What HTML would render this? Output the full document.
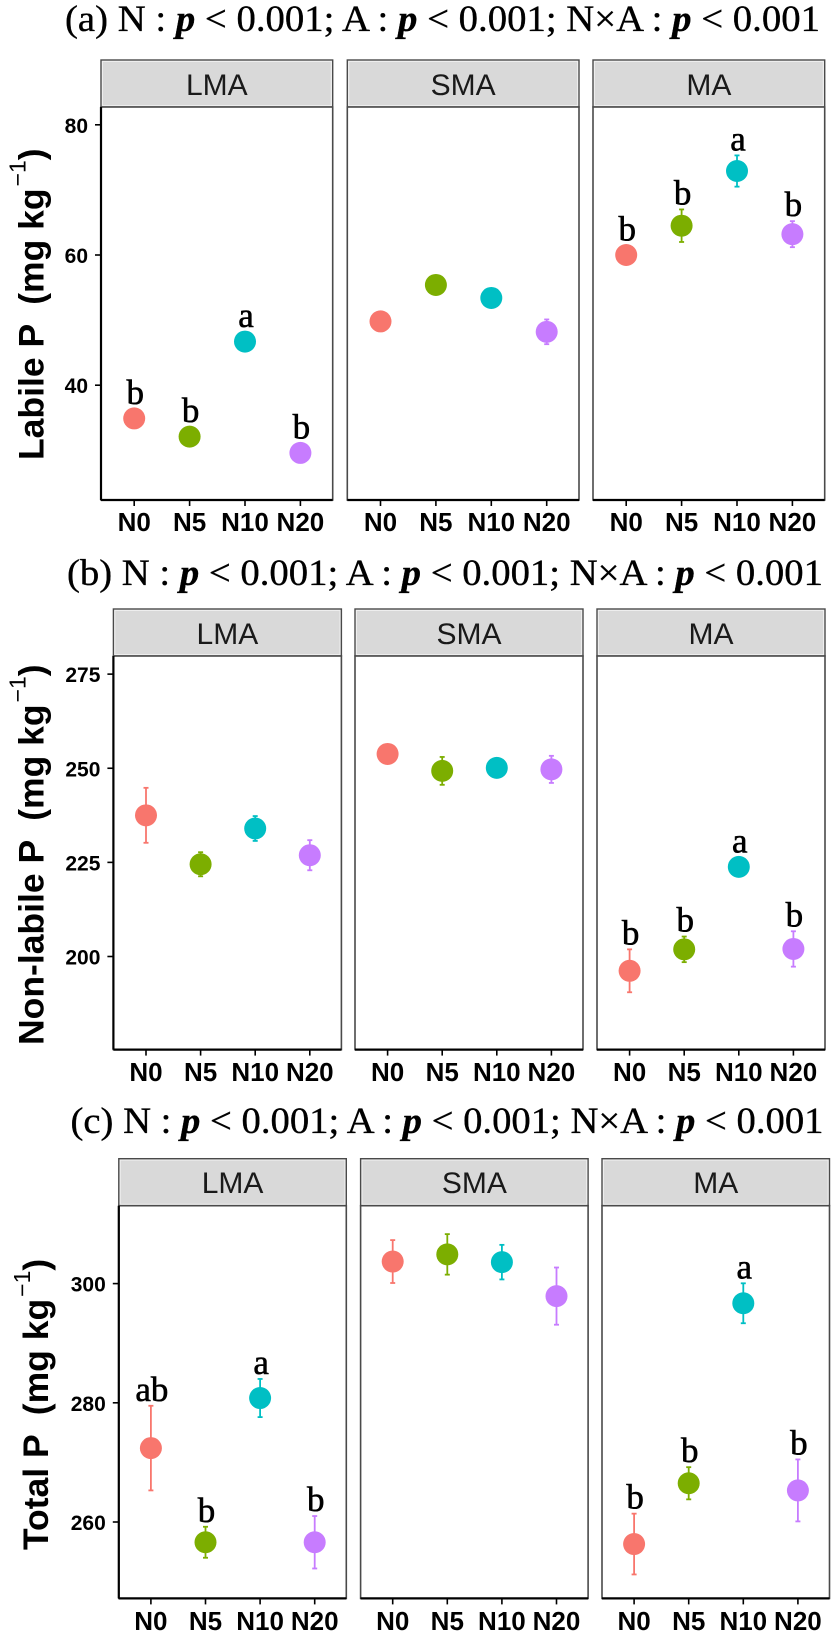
<!DOCTYPE html>
<html lang="en">
<head>
<meta charset="utf-8">
<title>Labile, non-labile and total P</title>
<style>
html,body{margin:0;padding:0;background:#fff;width:831px;height:1637px;overflow:hidden}
svg{display:block}
text{font-family:"Liberation Sans",sans-serif}
.serif{font-family:"Liberation Serif",serif}
</style>
</head>
<body>
<svg id="fig" xmlns="http://www.w3.org/2000/svg" width="831" height="1637" viewBox="0 0 831 1637"></svg>
<script>
// Shared categories
const treatments = ['N0', 'N5', 'N10', 'N20'];
const facets = ['LMA', 'SMA', 'MA'];
const seriesColors = ['#F8766D', '#7CAE00', '#00BFC4', '#C77CFF'];

// (a) Labile P
const labileTicks = [40, 60, 80];
const labileLmaMeans = [34.9, 32.1, 46.7, 29.6];
const labileLmaErrors = [0.4, 0.4, 0.5, 0.4];
const labileLmaLetters = ['b', 'b', 'a', 'b'];
const labileSmaMeans = [49.8, 55.4, 53.4, 48.2];
const labileSmaErrors = [0.6, 0.4, 0.4, 1.9];
const labileSmaLetters = ['', '', '', ''];
const labileMaMeans = [60.0, 64.5, 72.9, 63.2];
const labileMaErrors = [0.5, 2.5, 2.4, 2.0];
const labileMaLetters = ['b', 'b', 'a', 'b'];

// (b) Non-labile P
const nonLabileTicks = [200, 225, 250, 275];
const nonLabileLmaMeans = [237.5, 224.5, 234.0, 226.9];
const nonLabileLmaErrors = [7.3, 3.2, 3.3, 4.0];
const nonLabileLmaLetters = ['', '', '', ''];
const nonLabileSmaMeans = [253.8, 249.3, 250.1, 249.7];
const nonLabileSmaErrors = [0.8, 3.7, 1.0, 3.6];
const nonLabileSmaLetters = ['', '', '', ''];
const nonLabileMaMeans = [196.2, 201.9, 223.8, 202.0];
const nonLabileMaErrors = [5.7, 3.4, 0.9, 4.7];
const nonLabileMaLetters = ['b', 'b', 'a', 'b'];

// (c) Total P
const totalTicks = [260, 280, 300];
const totalLmaMeans = [272.4, 256.6, 280.8, 256.6];
const totalLmaErrors = [7.1, 2.6, 3.2, 4.4];
const totalLmaLetters = ['ab', 'b', 'a', 'b'];
const totalSmaMeans = [303.7, 304.9, 303.6, 297.9];
const totalSmaErrors = [3.6, 3.4, 2.9, 4.8];
const totalSmaLetters = ['', '', '', ''];
const totalMaMeans = [256.3, 266.5, 296.7, 265.3];
const totalMaErrors = [5.1, 2.7, 3.35, 5.2];
const totalMaLetters = ['b', 'b', 'a', 'b'];

const SVGNS = 'http://www.w3.org/2000/svg';
const root = document.getElementById('fig');

function mk(tag, attrs, parent, txt) {
  const el = document.createElementNS(SVGNS, tag);
  for (const k in attrs) el.setAttribute(k, attrs[k]);
  if (txt !== undefined) el.textContent = txt;
  (parent || root).appendChild(el);
  return el;
}

function drawFigure(cfg) {
  const g = mk('g', {});
  
  

  // Title
  const title = mk('text', {
    class: 'serif', x: cfg.titleX, y: cfg.titleY, 'font-size': 37, fill: '#000',
    stroke: '#000', 'stroke-width': 0.35,
    textLength: cfg.titleW, lengthAdjust: 'spacingAndGlyphs'
  }, g);
  
  
  const parts = [cfg.label + ' N : ', 'p', ' < 0.001; A : ', 'p', ' < 0.001; N×A : ', 'p', ' < 0.001'];
  parts.forEach(function (p, i) {
    const ts = mk('tspan', {}, title, p);
    if (i % 2) { ts.setAttribute('font-style', 'italic'); ts.setAttribute('font-weight', 'bold'); }
  });

  // Y axis title
  const yt = mk('text', {
    transform: 'translate(' + cfg.ytX + ',' + cfg.ytY + ') rotate(-90)',
    'font-size': 35.5, 'font-weight': 'bold', fill: '#000'
  }, g);
  
  
  yt.style.whiteSpace = 'pre';
  mk('tspan', {}, yt, cfg.yLabel + '  (mg kg');
  mk('tspan', { 'font-size': 23, 'font-weight': 'normal', dy: -18, dx: 2 }, yt, '−1');
  mk('tspan', { dy: 18, dx: 0 }, yt, ')');

  const y = function (v) { return cfg.y0 - (v - cfg.v0) * cfg.pxPerUnit; };

  cfg.panels.forEach(function (p, pi) {
    const left = cfg.panelX[pi];
    const right = left + cfg.panelW;
    const x = function (i) { return left + cfg.firstX + i * cfg.stepX; };
    const pg = mk('g', {}, g);
    
    

    // Strip
    const strip = mk('rect', {
      x: left, y: cfg.stripTop, width: cfg.panelW, height: cfg.panelTop - cfg.stripTop,
      fill: '#d9d9d9', stroke: '#4a4a4a', 'stroke-width': 1.4
    }, pg);
    
    
    const stripInner = mk('rect', {
      x: left + 1.4, y: cfg.stripTop + 1.4, width: cfg.panelW - 2.8, height: cfg.panelTop - cfg.stripTop - 2.8,
      fill: 'none', stroke: '#f0f0f0', 'stroke-width': 1
    }, pg);
    
    
    const stripText = mk('text', {
      x: (left + right) / 2, y: cfg.stripText, 'text-anchor': 'middle', 'font-size': 30, fill: '#1a1a1a'
    }, pg, facets[pi]);
    
    

    // Panel frame
    const frame = mk('rect', {
      x: left, y: cfg.panelTop, width: cfg.panelW, height: cfg.panelBottom - cfg.panelTop,
      fill: '#fff', stroke: '#4a4a4a', 'stroke-width': 1.6
    }, pg);
    
    
    const xAxis = mk('line', {
      x1: left, x2: right, y1: cfg.panelBottom, y2: cfg.panelBottom, stroke: '#000', 'stroke-width': 2.2
    }, pg);
    
    

    // Y axis (left facet only)
    if (pi === 0) {
      const yAxis = mk('line', {
        x1: left, x2: left, y1: cfg.panelTop, y2: cfg.panelBottom, stroke: '#000', 'stroke-width': 2.2
      }, pg);
      
      
      cfg.ticks.forEach(function (t) {
        const tick = mk('line', {
          x1: left - 6, x2: left, y1: y(t), y2: y(t), stroke: '#000', 'stroke-width': 1.6
        }, pg);
        
        
        const lab = mk('text', {
          x: left - 13, y: y(t) + 8, 'text-anchor': 'end', 'font-size': 21, 'font-weight': 'bold', fill: '#000'
        }, pg, String(t));
        
        
      });
    }

    // X ticks and labels
    treatments.forEach(function (name, i) {
      const tick = mk('line', {
        x1: x(i), x2: x(i), y1: cfg.panelBottom, y2: cfg.panelBottom + 6, stroke: '#000', 'stroke-width': 1.6
      }, pg);
      
      
      const lab = mk('text', {
        x: x(i), y: cfg.xLabelY, 'text-anchor': 'middle', 'font-size': 26, 'font-weight': 'bold', fill: '#000'
      }, pg, name);
      
      
    });

    // Marks
    p.means.forEach(function (m, i) {
      const c = seriesColors[i];
      const e = p.errors[i];
      const bar = mk('line', {
        x1: x(i), x2: x(i), y1: y(m - e), y2: y(m + e), stroke: c, 'stroke-width': 1.8
      }, pg);
      
      
      [m - e, m + e].forEach(function (v) {
        const cap = mk('line', {
          x1: x(i) - 2.5, x2: x(i) + 2.5, y1: y(v), y2: y(v), stroke: c, 'stroke-width': 1.8
        }, pg);
        
        
      });
      const dot = mk('circle', { cx: x(i), cy: y(m), r: 11, fill: c }, pg);
      
      
      if (p.letters[i]) {
        const top = Math.min(y(m + e) - 5, y(m) - 14.5);
        const letter = mk('text', {
          class: 'serif', x: x(i) + 1, y: top, 'text-anchor': 'middle', 'font-size': 35, fill: '#000',
          stroke: '#000', 'stroke-width': 0.6
        }, pg, p.letters[i]);
        
        
      }
    });
  });
}

drawFigure({
  id: 'a', label: '(a)', yLabel: 'Labile P',
  titleX: 65, titleY: 31, titleW: 755,
  ytX: 43.5, ytY: 460,
  stripTop: 60, panelTop: 107, panelBottom: 500, stripText: 95, xLabelY: 531,
  panelX: [101, 347.3, 593], panelW: 231.7, firstX: 33.2, stepX: 55.4,
  y0: 385.2, v0: 40, pxPerUnit: 6.51, ticks: labileTicks,
  panels: [
    { means: labileLmaMeans, errors: labileLmaErrors, letters: labileLmaLetters },
    { means: labileSmaMeans, errors: labileSmaErrors, letters: labileSmaLetters },
    { means: labileMaMeans, errors: labileMaErrors, letters: labileMaLetters }
  ]
});

drawFigure({
  id: 'b', label: '(b)', yLabel: 'Non-labile P',
  titleX: 67, titleY: 585, titleW: 756,
  ytX: 43.5, ytY: 1045,
  stripTop: 609, panelTop: 656, panelBottom: 1049.6, stripText: 644, xLabelY: 1081,
  panelX: [113.4, 355, 597], panelW: 228, firstX: 32.6, stepX: 54.6,
  y0: 956.5, v0: 200, pxPerUnit: 3.765, ticks: nonLabileTicks,
  panels: [
    { means: nonLabileLmaMeans, errors: nonLabileLmaErrors, letters: nonLabileLmaLetters },
    { means: nonLabileSmaMeans, errors: nonLabileSmaErrors, letters: nonLabileSmaLetters },
    { means: nonLabileMaMeans, errors: nonLabileMaErrors, letters: nonLabileMaLetters }
  ]
});

drawFigure({
  id: 'c', label: '(c)', yLabel: 'Total P',
  titleX: 70.5, titleY: 1133, titleW: 753,
  ytX: 48, ytY: 1550,
  stripTop: 1158.7, panelTop: 1205.7, panelBottom: 1598.4, stripText: 1193, xLabelY: 1630,
  panelX: [118.8, 360.6, 602], panelW: 227.5, firstX: 32.1, stepX: 54.6,
  y0: 1522, v0: 260, pxPerUnit: 5.96, ticks: totalTicks,
  panels: [
    { means: totalLmaMeans, errors: totalLmaErrors, letters: totalLmaLetters },
    { means: totalSmaMeans, errors: totalSmaErrors, letters: totalSmaLetters },
    { means: totalMaMeans, errors: totalMaErrors, letters: totalMaLetters }
  ]
});
</script>
</body>
</html>
